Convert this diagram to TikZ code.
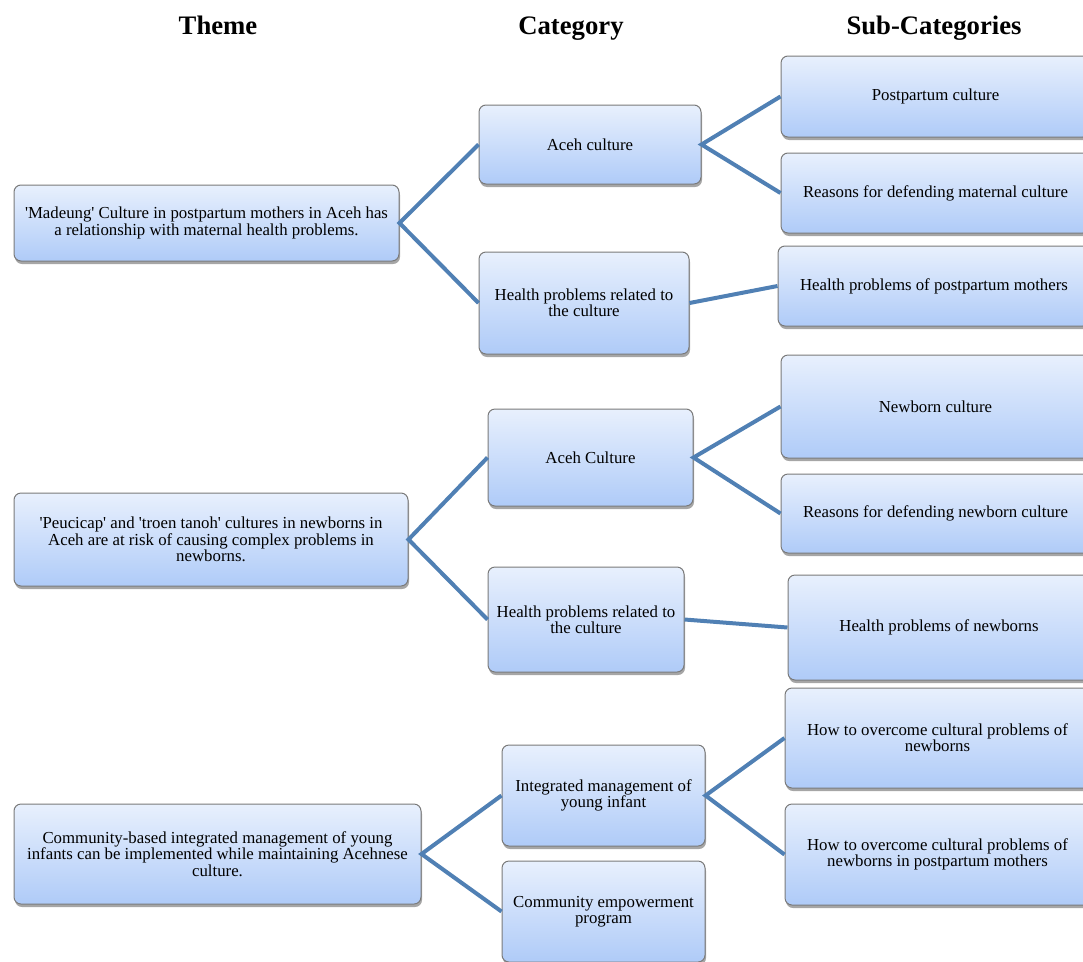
\documentclass[tikz,border=0pt]{standalone}
\usepackage{fontspec}
\setmainfont{Liberation Serif}
\usetikzlibrary{shadows}

\definecolor{boxtop}{HTML}{E8F0FD}
\definecolor{boxbot}{HTML}{AFCBF8}
\definecolor{boxline}{HTML}{7A7A7A}
\definecolor{linkblue}{HTML}{5080B4}

\tikzset{
  box/.style={rectangle, rounded corners=7pt, draw=boxline, line width=1pt,
    top color=boxtop, bottom color=boxbot, align=center,
    font=\fontsize{16.8}{16.3}\selectfont, inner sep=2pt,
    drop shadow={shadow xshift=1pt, shadow yshift=-3pt, opacity=.35, fill=black}},
  link/.style={draw=linkblue, line width=4pt},
  head/.style={font=\fontsize{26.7}{28}\selectfont\bfseries, anchor=base}
}

\begin{document}
\begin{tikzpicture}[x=1pt, y=-1pt]
\useasboundingbox (0,0) rectangle (1083,961);
\clip (0,0) rectangle (1083,961);

\node[head] (hTheme) at (218,34) {Theme};
\node[head] (hCat) at (571,34) {Category};
\node[head] (hSub) at (934,34) {Sub-Categories};

% first theme
\node[box, minimum width=385pt, minimum height=76pt] (theme1) at (206.5,223)
  {\textquotesingle Madeung\textquotesingle{} Culture in postpartum mothers in Aceh has\\a relationship with maternal health problems.};
\node[box, minimum width=222pt, minimum height=79pt] (cat1) at (590,144.5) {Aceh culture};
\node[box, minimum width=210pt, minimum height=102pt] (cat2) at (584,303)
  {Health problems related to\\the culture};
\node[box, minimum width=309pt, minimum height=81pt] (sub1) at (935.5,96.5) {Postpartum culture};
\node[box, minimum width=309pt, minimum height=80pt] (sub2) at (935.5,193) {Reasons for defending maternal culture};
\node[box, minimum width=312pt, minimum height=80pt] (sub3) at (934,286) {Health problems of postpartum mothers};

% second theme
\node[box, minimum width=394pt, minimum height=93pt] (theme2) at (211,539.5)
  {\textquotesingle Peucicap\textquotesingle{} and \textquotesingle troen tanoh\textquotesingle{} cultures in newborns in\\Aceh are at risk of causing complex problems in\\newborns.};
\node[box, minimum width=205pt, minimum height=97pt] (cat3) at (590.5,457.5) {Aceh Culture};
\node[box, minimum width=196pt, minimum height=105pt] (cat4) at (586,619.5)
  {Health problems related to\\the culture};
\node[box, minimum width=309pt, minimum height=103pt] (sub4) at (935.5,406.5) {Newborn culture};
\node[box, minimum width=309pt, minimum height=79pt] (sub5) at (935.5,513.5) {Reasons for defending newborn culture};
\node[box, minimum width=302pt, minimum height=105pt] (sub6) at (939,627.5) {Health problems of newborns};

% third theme
\node[box, minimum width=407pt, minimum height=100pt] (theme3) at (217.5,854)
  {Community-based integrated management of young\\infants can be implemented while maintaining Acehnese\\culture.};
\node[box, minimum width=203pt, minimum height=101pt] (cat5) at (603.5,795.5)
  {Integrated management of\\young infant};
\node[box, minimum width=203pt, minimum height=101pt] (cat6) at (603.5,911.5)
  {Community empowerment\\program};
\node[box, minimum width=305pt, minimum height=100pt] (sub7) at (937.5,738)
  {How to overcome cultural problems of\\newborns};
\node[box, minimum width=305pt, minimum height=101pt] (sub8) at (937.5,854.5)
  {How to overcome cultural problems of\\newborns in postpartum mothers};

\draw[link] (cat1.west) -- (theme1.east) -- (cat2.west);
\draw[link] (sub1.west) -- (cat1.east) -- (sub2.west);
\draw[link] (cat2.east) -- (sub3.west);
\draw[link] (cat3.west) -- (theme2.east) -- (cat4.west);
\draw[link] (sub4.west) -- (cat3.east) -- (sub5.west);
\draw[link] (cat4.east) -- (sub6.west);
\draw[link] (cat5.west) -- (theme3.east) -- (cat6.west);
\draw[link] (sub7.west) -- (cat5.east) -- (sub8.west);
\end{tikzpicture}
\end{document}
